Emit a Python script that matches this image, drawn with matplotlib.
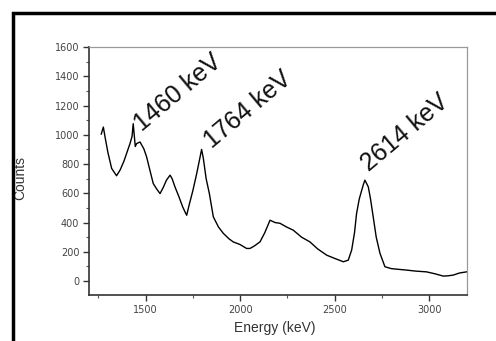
import matplotlib
matplotlib.use("Agg")
import matplotlib.pyplot as plt
from matplotlib.patches import Rectangle
from matplotlib.ticker import MultipleLocator

# spectrum
energy = [1265, 1276, 1285, 1300, 1320, 1346, 1365, 1385, 1405, 1417, 1428, 1434,
          1445, 1452, 1470, 1490, 1505, 1520, 1540, 1558, 1576, 1593, 1610, 1629,
          1640, 1655, 1675, 1695, 1708, 1717, 1730, 1750, 1770, 1785, 1796, 1805,
          1820, 1837, 1858, 1885, 1911, 1940, 1963, 1999, 2034, 2052, 2075, 2105,
          2130, 2158, 2185, 2211, 2245, 2281, 2325, 2369, 2410, 2458, 2500, 2546,
          2572, 2590, 2605, 2616, 2630, 2643, 2652, 2660, 2668, 2678, 2690, 2704,
          2720, 2740, 2766, 2800, 2840, 2881, 2930, 2986, 3030, 3075, 3100, 3128,
          3160, 3198]
counts = [1005, 1053, 985, 880, 770, 720, 760, 820, 895, 940, 990, 1076,
          920, 940, 951, 905, 849, 770, 667, 630, 598, 640, 690, 724,
          700, 644, 580, 510, 473, 450, 520, 620, 735, 830, 900, 840,
          700, 598, 439, 370, 326, 290, 268, 250, 223, 223, 240, 268,
          330, 416, 400, 395, 370, 348, 300, 268, 220, 177, 155, 132,
          143, 212, 330, 462, 560, 620, 660, 690, 670, 644, 560, 439,
          300, 189, 98, 85, 80, 75, 68, 63, 50, 34, 36, 41,
          55, 63]

peak_labels = ["1460 keV", "1764 keV", "2614 keV"]
label_x = [1495, 1870, 2700]
label_y = [990, 875, 720]

plt.rcParams['font.family'] = ['Liberation Sans', 'DejaVu Sans']

fig = plt.figure(figsize=(4.96, 3.41), dpi=100)
ax = fig.add_axes([0.1794, 0.135, 0.762, 0.727])

ax.plot(energy, counts, color='black', lw=1.0)

for t, x, y in zip(peak_labels, label_x, label_y):
    ax.text(x, y, t, rotation=40, rotation_mode='anchor', ha='left', va='bottom',
            fontsize=18, color='#111111')

ax.set_xlim(1200, 3200)
ax.set_ylim(-95, 1600)
ax.set_xticks([1500, 2000, 2500, 3000])
ax.xaxis.set_minor_locator(MultipleLocator(250))
ax.yaxis.set_major_locator(MultipleLocator(200))
ax.yaxis.set_minor_locator(MultipleLocator(100))
ax.tick_params(which='major', direction='out', length=4, width=1, labelsize=7,
               labelcolor='#444444', color='#333333', pad=3)
ax.tick_params(which='minor', direction='out', length=2, width=0.8, color='#555555')
for lab in ax.get_xticklabels() + ax.get_yticklabels():
    lab.set_family('DejaVu Sans')

for s in ['left', 'bottom']:
    ax.spines[s].set_color('#333333')
    ax.spines[s].set_linewidth(1.2)
for s in ['top', 'right']:
    ax.spines[s].set_color('#999999')
    ax.spines[s].set_linewidth(0.9)

ax.set_xlabel('Energy (keV)', fontsize=10, color='#333333')
ax.set_ylabel('Counts', fontsize=10, color='#333333')
ax.xaxis.set_label_coords(0.492, -0.105)
ax.yaxis.set_label_coords(-0.163, 0.47)

# black frame round the figure (only top and left edges visible)
fig.add_artist(Rectangle((12.5 / 496, -0.5), 1.5, 1.5 - 12.5 / 341,
                         transform=fig.transFigure, fill=False,
                         edgecolor='black', lw=2.5, clip_on=False))

fig.savefig('out.png', dpi=100)
